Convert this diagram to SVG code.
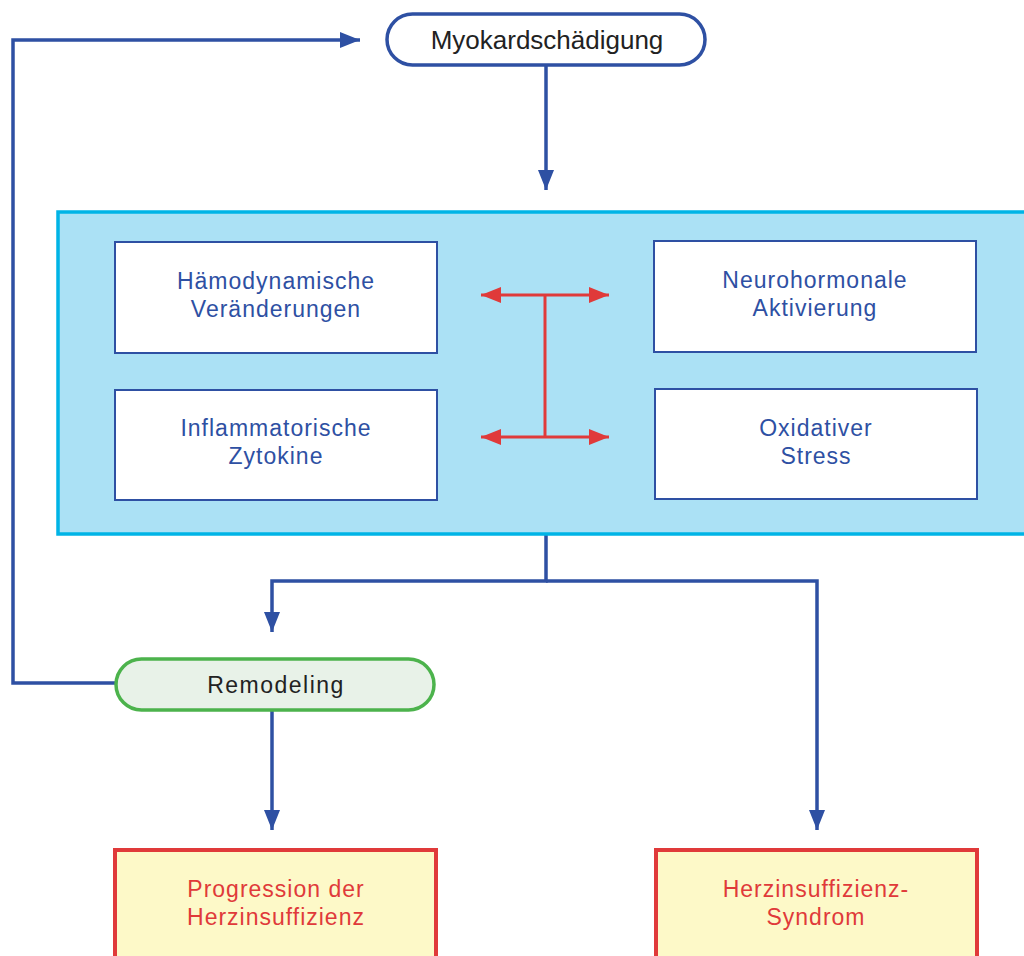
<svg xmlns="http://www.w3.org/2000/svg" width="1024" height="956" viewBox="0 0 1024 956">
<defs>
<marker id="abb" viewBox="0 0 20 16" refX="20" refY="8" markerWidth="20" markerHeight="16" orient="auto" markerUnits="userSpaceOnUse">
<path d="M0,0 L20,8 L0,16 z" fill="#2e50a3"/>
</marker>
<marker id="ar" viewBox="0 0 20 16" refX="20" refY="8" markerWidth="20" markerHeight="16" orient="auto-start-reverse" markerUnits="userSpaceOnUse">
<path d="M0,0 L20,8 L0,16 z" fill="#e03a3a"/>
</marker>
</defs>
<style>
.t{font-family:"Liberation Sans",Arial,sans-serif;text-anchor:middle;}
.in{fill:#2e50a3;font-size:23px;letter-spacing:1px;}
.inbox{fill:#ffffff;stroke:#2e50a3;stroke-width:2;}
.out{fill:#fdf9c8;stroke:#e03a3a;stroke-width:4;}
.outt{fill:#e03a3a;font-size:23px;letter-spacing:1px;}
.bl{fill:none;stroke:#2e50a3;stroke-width:3.5;}
.rd{fill:none;stroke:#e03a3a;stroke-width:3;}
</style>
<rect width="1024" height="956" fill="#ffffff"/>

<g id="connectors">
<path class="bl" d="M115,683 H13 V40 H360" marker-end="url(#abb)"/>
<path class="bl" d="M546,66 V190" marker-end="url(#abb)"/>
<path class="bl" d="M546,534 V581 H272 V632" marker-end="url(#abb)"/>
<path class="bl" d="M546,581 H817 V830" marker-end="url(#abb)"/>
<path class="bl" d="M272,710 V830" marker-end="url(#abb)"/>
</g>

<g id="group-box">
<rect x="58" y="212" width="972" height="322" fill="#abe1f5" stroke="#00b4e6" stroke-width="3.5"/>
</g>

<g id="myokard">
<rect x="387" y="14" width="318" height="51" rx="25.5" fill="#ffffff" stroke="#2e50a3" stroke-width="3.5"/>
<text class="t" x="547" y="49" font-size="26" fill="#222222">Myokardschädigung</text>
</g>

<g id="haemodynamisch">
<rect class="inbox" x="115" y="242" width="322" height="111"/>
<text class="t in" x="276" y="289">Hämodynamische</text>
<text class="t in" x="276" y="317">Veränderungen</text>
</g>
<g id="neurohormonal">
<rect class="inbox" x="654" y="241" width="322" height="111"/>
<text class="t in" x="815" y="288">Neurohormonale</text>
<text class="t in" x="815" y="316">Aktivierung</text>
</g>
<g id="inflammatorisch">
<rect class="inbox" x="115" y="390" width="322" height="110"/>
<text class="t in" x="276" y="436">Inflammatorische</text>
<text class="t in" x="276" y="464">Zytokine</text>
</g>
<g id="oxidativ">
<rect class="inbox" x="655" y="389" width="322" height="110"/>
<text class="t in" x="816" y="436">Oxidativer</text>
<text class="t in" x="816" y="464">Stress</text>
</g>

<g id="interaction">
<path class="rd" d="M481,295 H609" marker-start="url(#ar)" marker-end="url(#ar)"/>
<path class="rd" d="M481,437 H609" marker-start="url(#ar)" marker-end="url(#ar)"/>
<path class="rd" d="M545,295 V437"/>
</g>

<g id="remodeling">
<rect x="116" y="659" width="318" height="51" rx="25.5" fill="#e8f2e8" stroke="#4cb34c" stroke-width="3.5"/>
<text class="t" x="276" y="693" font-size="23" letter-spacing="1.5" fill="#222222">Remodeling</text>
</g>

<g id="progression">
<rect class="out" x="115" y="850" width="321" height="120"/>
<text class="t outt" x="276" y="897">Progression der</text>
<text class="t outt" x="276" y="925">Herzinsuffizienz</text>
</g>
<g id="syndrom">
<rect class="out" x="656" y="850" width="321" height="120"/>
<text class="t outt" x="816" y="897">Herzinsuffizienz-</text>
<text class="t outt" x="816" y="925">Syndrom</text>
</g>
</svg>
